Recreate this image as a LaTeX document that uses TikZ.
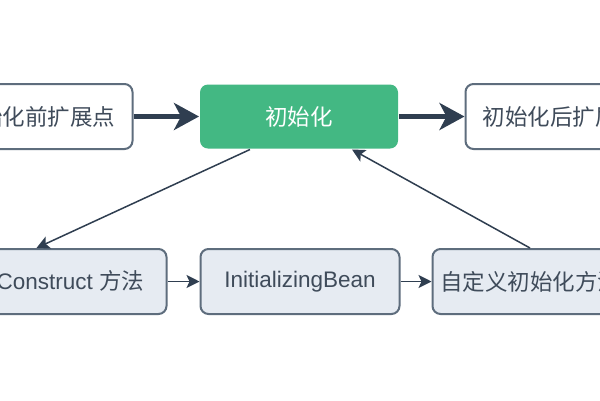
\documentclass[tikz,border=0pt]{standalone}
\usepackage{fontspec}
\setmainfont{Liberation Sans}
\newfontfamily\cjk{Noto Sans CJK SC}
\usetikzlibrary{arrows.meta,calc}
\definecolor{edgeC}{HTML}{5E6D7D}
\definecolor{arrowC}{HTML}{2F3E50}
\definecolor{textC}{HTML}{3F4B5A}
\definecolor{greenC}{HTML}{43B883}
\definecolor{lightC}{HTML}{E6EBF2}
\tikzset{
  box/.style={rounded corners=8pt, line width=2pt, draw=edgeC, minimum height=65pt,
    text=textC, font=\fontsize{22.5}{26}\selectfont, inner sep=0pt},
  sidebox/.style={box, fill=white},
  mainbox/.style={box, draw=none, fill=greenC, text=white, minimum height=64pt},
  stepnode/.style={box, fill=lightC},
  bigarrow/.style={draw=arrowC, line width=4.5pt, -{Stealth[length=25pt,width=27pt,inset=7pt]}},
  smallarrow/.style={draw=arrowC, line width=1.5pt, -{Stealth[length=13pt,width=13pt,inset=3pt]}}
}
\begin{document}
\begin{tikzpicture}[x=1pt,y=-1pt]
\useasboundingbox (0,0) rectangle (600,400);
\clip (0,0) rectangle (600,400);
\fill[white] (0,0) rectangle (600,400);
% top row
\node[sidebox, minimum width=192pt] (pre) at (36.5,116.5) {\cjk 初始化前扩展点};
\node[mainbox, minimum width=198pt] (init) at (299,116.5) {\cjk 初始化};
\node[sidebox, minimum width=192pt] (post) at (561.5,116.5) {\cjk 初始化后扩展点};
% bottom row
\node[stepnode, minimum width=260pt] (pc) at (36.5,281.5) {@PostConstruct {\cjk 方法}};
\node[stepnode, minimum width=199pt] (ib) at (300,281.5) {InitializingBean};
\node[stepnode, minimum width=195pt] (cust) at (530,281.5) {\cjk 自定义初始化方法};
% connectors
\draw[bigarrow] (pre.east) -- (init.west);
\draw[bigarrow] (init.east) -- (post.west);
\draw[smallarrow] (pc.east) -- (ib.west);
\draw[smallarrow] (ib.east) -- (cust.west);
\draw[smallarrow] ($(init.south)+(-49,0)$) -- (pc.north);
\draw[smallarrow] (cust.north) -- ($(init.south)+(53,0)$);
\end{tikzpicture}
\end{document}
